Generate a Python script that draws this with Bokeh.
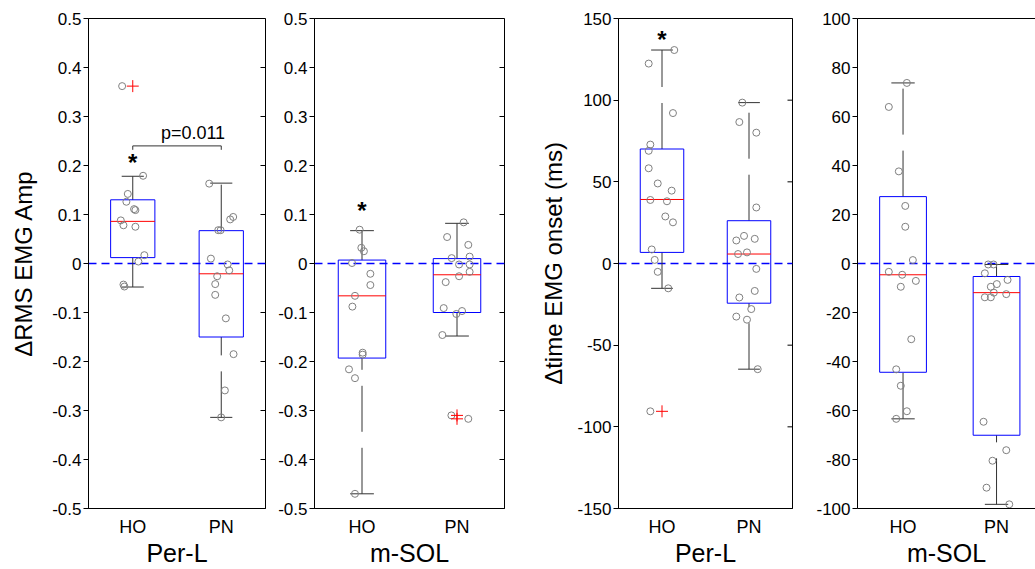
from bokeh.plotting import figure
from bokeh.models import FixedTicker, LinearAxis, Range1d, Label, ColumnDataSource
from bokeh.layouts import row
from bokeh.embed import file_html
from bokeh.resources import INLINE

# ---------------- data ----------------
groups = ["HO", "PN"]
group_pos = [1, 2]
muscle_labels = ["Per-L", "m-SOL", "Per-L", "m-SOL"]
rms_title = "\u0394RMS EMG Amp"
onset_title = "\u0394time EMG onset (ms)"
p_text = "p=0.011"
zero_level = 0

rms_ticks = [-0.5, -0.4, -0.3, -0.2, -0.1, 0.0, 0.1, 0.2, 0.3, 0.4, 0.5]
rms_tick_labels = ["-0.5", "-0.4", "-0.3", "-0.2", "-0.1", "0", "0.1", "0.2", "0.3", "0.4", "0.5"]
perl_onset_ticks = [-150, -100, -50, 0, 50, 100, 150]
perl_onset_tick_labels = ["-150", "-100", "-50", "0", "50", "100", "150"]
msol_onset_ticks = [-100, -80, -60, -40, -20, 0, 20, 40, 60, 80, 100]
msol_onset_tick_labels = ["-100", "-80", "-60", "-40", "-20", "0", "20", "40", "60", "80", "100"]

# box statistics: [lower whisker, Q1, median, Q3, upper whisker]
rms_perl_ho_box = [-0.048, 0.012, 0.086, 0.130, 0.178]
rms_perl_pn_box = [-0.314, -0.150, -0.021, 0.067, 0.164]
rms_msol_ho_box = [-0.470, -0.193, -0.066, 0.007, 0.067]
rms_msol_pn_box = [-0.148, -0.100, -0.023, 0.010, 0.082]
onset_perl_ho_box = [-15.2, 6.8, 39.2, 70.1, 130.7]
onset_perl_pn_box = [-64.7, -24.3, 5.8, 26.2, 98.5]
onset_msol_ho_box = [-63.4, -44.4, -4.6, 27.3, 73.7]
onset_msol_pn_box = [-98.3, -70.1, -11.9, -5.3, -0.4]

# outliers (red +)
rms_perl_ho_out = [0.362]
rms_perl_pn_out = []
rms_msol_ho_out = []
rms_msol_pn_out = [-0.310, -0.317]
onset_perl_ho_out = [-90.5]
onset_perl_pn_out = []
onset_msol_ho_out = []
onset_msol_pn_out = []

# individual subjects (grey circles) and their horizontal jitter (category units)
rms_perl_ho = [0.362, 0.179, 0.142, 0.126, 0.111, 0.109, 0.088, 0.078, 0.075, 0.017, 0.004, -0.043, -0.047]
rms_perl_ho_jit = [-0.12, 0.117, -0.056, -0.072, 0.015, 0.03, -0.135, -0.105, 0.03, 0.131, 0.064, -0.105, -0.094]
rms_perl_pn = [0.163, 0.095, 0.090, 0.068, 0.068, 0.010, -0.002, -0.014, -0.026, -0.042, -0.064, -0.112, -0.185, -0.259, -0.314]
rms_perl_pn_jit = [-0.136, 0.135, 0.101, -0.034, -0.007, -0.117, 0.072, 0.09, -0.046, -0.068, -0.068, 0.052, 0.139, 0.041, -0.001]
rms_msol_ho = [0.069, 0.032, 0.025, 0.001, -0.021, -0.044, -0.066, -0.088, -0.182, -0.186, -0.216, -0.234, -0.470]
rms_msol_ho_jit = [-0.025, -0.007, 0.02, -0.105, 0.088, 0.088, -0.074, -0.101, 0.007, 0.007, -0.137, -0.074, -0.074]
rms_msol_pn = [0.084, 0.054, 0.038, 0.011, 0.014, -0.002, -0.002, -0.017, -0.026, -0.038, -0.091, -0.097, -0.103, -0.146, -0.310, -0.317]
rms_msol_pn_jit = [0.07, -0.104, 0.119, -0.056, 0.133, 0.022, 0.133, 0.133, 0.022, -0.119, -0.14, 0.053, -0.007, -0.154, -0.059, 0.119]
onset_perl_ho = [130.7, 122.4, 92.1, 72.8, 69.0, 58.3, 49.0, 44.6, 38.9, 38.1, 28.8, 25.2, 8.6, 2.2, -5.1, -15.2, -90.5]
onset_perl_ho_jit = [0.141, -0.153, 0.126, -0.134, -0.153, -0.153, -0.049, 0.111, -0.134, 0.057, 0.038, 0.126, -0.118, -0.084, -0.049, 0.072, -0.134]
onset_perl_pn = [98.5, 86.6, 80.1, 34.3, 16.9, 14.1, 15.1, 5.8, 6.8, -3.3, -16.8, -20.8, -27.9, -32.5, -34.4, -64.7]
onset_perl_pn_jit = [-0.077, -0.111, 0.084, 0.084, -0.057, -0.146, 0.066, -0.126, -0.023, 0.084, 0.066, -0.111, 0.026, -0.146, -0.023, 0.1]
onset_msol_ho = [73.7, 63.9, 37.6, 23.5, 15.0, 1.4, -3.4, -4.6, -7.1, -9.5, -30.9, -43.2, -49.9, -60.3, -63.4]
onset_msol_ho_jit = [0.041, -0.152, -0.045, 0.024, 0.024, 0.105, -0.152, -0.009, 0.137, -0.024, 0.088, -0.073, -0.024, 0.041, -0.073]
onset_msol_pn = [-0.4, -0.4, -4.0, -6.7, -8.4, -9.5, -11.9, -12.5, -13.8, -13.8, -64.6, -76.2, -80.5, -91.5, -98.3]
onset_msol_pn_jit = [-0.089, -0.032, -0.125, 0.118, 0.003, -0.061, -0.029, 0.104, -0.125, -0.061, -0.139, 0.104, -0.043, -0.107, 0.136]

# ---------------- styling ----------------
FONT = "Liberation Sans"
FIG_H = 569
TOP = 18
FRAME_H = 495
BOX_HALF = 0.25
CAP_HALF = 0.125
WHISKER_COLOR = "#333333"
POINT_COLOR = "#808080"
ZERO_COLOR = "#0000ff"


def make_panel(boxes, points, jitters, outliers, ticks, tick_labels, yr, muscle,
               width, left, right, x_start, x_end, ylabel=None, ylabel_standoff=12,
               right_box=True, star_offset=None, bracket=None):
    p = figure(width=width, height=FIG_H, output_backend="svg", toolbar_location=None,
               x_range=Range1d(x_start, x_end), y_range=Range1d(*yr),
               min_border_left=left, min_border_right=right, min_border_top=TOP,
               min_border_bottom=FIG_H - TOP - FRAME_H)
    p.grid.visible = False
    p.background_fill_color = "white"
    p.border_fill_color = "white"
    p.outline_line_color = "black" if right_box else None
    p.outline_line_width = 1

    # y axis (left)
    ya = p.yaxis[0]
    ya.ticker = FixedTicker(ticks=ticks)
    ya.major_label_overrides = {t: s for t, s in zip(ticks, tick_labels)}
    ya.major_tick_out = 5
    ya.major_tick_in = 0
    ya.minor_tick_line_color = None
    ya.major_label_standoff = 2
    ya.major_label_text_font = FONT
    ya.major_label_text_font_size = "17px"
    ya.major_label_text_color = "black"
    ya.axis_line_color = "black"
    if ylabel:
        ya.axis_label = ylabel
        ya.axis_label_text_font = FONT
        ya.axis_label_text_font_size = "24px"
        ya.axis_label_text_font_style = "normal"
        ya.axis_label_text_color = "black"
        ya.axis_label_standoff = ylabel_standoff

    # x axis (below) with the muscle name as its title
    xa = p.xaxis[0]
    xa.ticker = FixedTicker(ticks=group_pos)
    xa.major_label_overrides = {g: s for g, s in zip(group_pos, groups)}
    xa.major_tick_line_color = None
    xa.major_tick_out = 0
    xa.major_tick_in = 0
    xa.minor_tick_line_color = None
    xa.major_label_standoff = 8
    xa.major_label_text_font = FONT
    xa.major_label_text_font_size = "18px"
    xa.major_label_text_color = "black"
    xa.axis_line_color = "black"
    xa.axis_label = muscle
    xa.axis_label_text_font = FONT
    xa.axis_label_text_font_size = "25px"
    xa.axis_label_text_font_style = "normal"
    xa.axis_label_text_color = "black"
    xa.axis_label_standoff = -1

    if right_box:
        # inward tick marks on the right edge (half of each dash is clipped by the frame)
        p.scatter(x=[x_end] * len(ticks), y=ticks, marker="dash", size=10,
                  line_color="black", line_width=1)
    else:
        ta = LinearAxis(ticker=FixedTicker(ticks=[]), major_tick_in=0, major_tick_out=0,
                        minor_tick_line_color=None, major_label_standoff=0,
                        axis_line_color="black")
        p.add_layout(ta, "above")

    # zero reference line across the whole panel
    p.segment(x0=[x_start], y0=[zero_level], x1=[x_end], y1=[zero_level],
              line_color=ZERO_COLOR, line_dash="8 5", line_width=1.3)

    for gx, b, vals, jit, outs in zip(group_pos, boxes, points, jitters, outliers):
        lw, q1, med, q3, uw = b
        src = ColumnDataSource(dict(x=[gx], lw=[lw], q1=[q1], med=[med], q3=[q3], uw=[uw],
                                    l=[gx - BOX_HALF], r=[gx + BOX_HALF],
                                    cl=[gx - CAP_HALF], cr=[gx + CAP_HALF]))
        # whiskers (drawn bottom -> top like the original)
        p.segment(x0="x", y0="lw", x1="x", y1="q1", source=src, line_color=WHISKER_COLOR,
                  line_width=1, line_dash="46 16")
        p.segment(x0="x", y0="q3", x1="x", y1="uw", source=src, line_color=WHISKER_COLOR,
                  line_width=1, line_dash="46 16")
        p.segment(x0="cl", y0="lw", x1="cr", y1="lw", source=src, line_color=WHISKER_COLOR,
                  line_width=1)
        p.segment(x0="cl", y0="uw", x1="cr", y1="uw", source=src, line_color=WHISKER_COLOR,
                  line_width=1)
        # box and median
        p.quad(left="l", right="r", bottom="q1", top="q3", source=src, fill_color=None,
               line_color="blue", line_width=1)
        p.segment(x0="l", y0="med", x1="r", y1="med", source=src, line_color="red",
                  line_width=1)
        # subjects
        p.scatter(x=[gx + j for j in jit], y=vals, marker="circle", size=7,
                  fill_color=None, line_color=POINT_COLOR, line_width=1)
        if outs:
            p.scatter(x=[gx] * len(outs), y=outs, marker="cross", size=12,
                      line_color="red", line_width=1)

    if star_offset is not None:
        p.add_layout(Label(x=group_pos[0], y=boxes[0][4], y_offset=star_offset, text="*",
                           text_align="center", text_baseline="alphabetic",
                           text_font=FONT, text_font_size="24px", text_font_style="bold",
                           text_color="black"))
    if bracket is not None:
        by, tick = bracket
        p.line(x=[group_pos[0], group_pos[0], group_pos[1], group_pos[1]],
               y=[by - tick, by, by, by - tick], line_color="#333333", line_width=1)
        p.add_layout(Label(x=(group_pos[0] + group_pos[1]) / 2, y=by, x_offset=16, y_offset=13,
                           text=p_text, text_align="center", text_baseline="alphabetic",
                           text_font=FONT, text_font_size="18px", text_color="black"))
    return p


p1 = make_panel([rms_perl_ho_box, rms_perl_pn_box], [rms_perl_ho, rms_perl_pn],
                [rms_perl_ho_jit, rms_perl_pn_jit], [rms_perl_ho_out, rms_perl_pn_out],
                rms_ticks, rms_tick_labels, (-0.5, 0.5), muscle_labels[0],
                width=267, left=88, right=2, x_start=0.5, x_end=2.5,
                ylabel=rms_title, ylabel_standoff=12, star_offset=14, bracket=(0.24, 0.008))
p2 = make_panel([rms_msol_ho_box, rms_msol_pn_box], [rms_msol_ho, rms_msol_pn],
                [rms_msol_ho_jit, rms_msol_pn_jit], [rms_msol_ho_out, rms_msol_pn_out],
                rms_ticks, rms_tick_labels, (-0.5, 0.5), muscle_labels[1],
                width=239, left=47, right=2, x_start=0.5, x_end=2.5, star_offset=20)
p3 = make_panel([onset_perl_ho_box, onset_perl_pn_box], [onset_perl_ho, onset_perl_pn],
                [onset_perl_ho_jit, onset_perl_pn_jit], [onset_perl_ho_out, onset_perl_pn_out],
                perl_onset_ticks, perl_onset_tick_labels, (-150, 150), muscle_labels[2],
                width=288, left=112, right=2, x_start=0.5, x_end=2.5,
                ylabel=onset_title, ylabel_standoff=7, star_offset=11)
p4 = make_panel([onset_msol_ho_box, onset_msol_pn_box], [onset_msol_ho, onset_msol_pn],
                [onset_msol_ho_jit, onset_msol_pn_jit], [onset_msol_ho_out, onset_msol_pn_out],
                msol_onset_ticks, msol_onset_tick_labels, (-100, 100), muscle_labels[3],
                width=241, left=63, right=0, x_start=0.513, x_end=0.513 + 178 / 93.5,
                right_box=False)

layout = row(p1, p2, p3, p4)
open("out.html", "w").write(file_html(layout, INLINE))
